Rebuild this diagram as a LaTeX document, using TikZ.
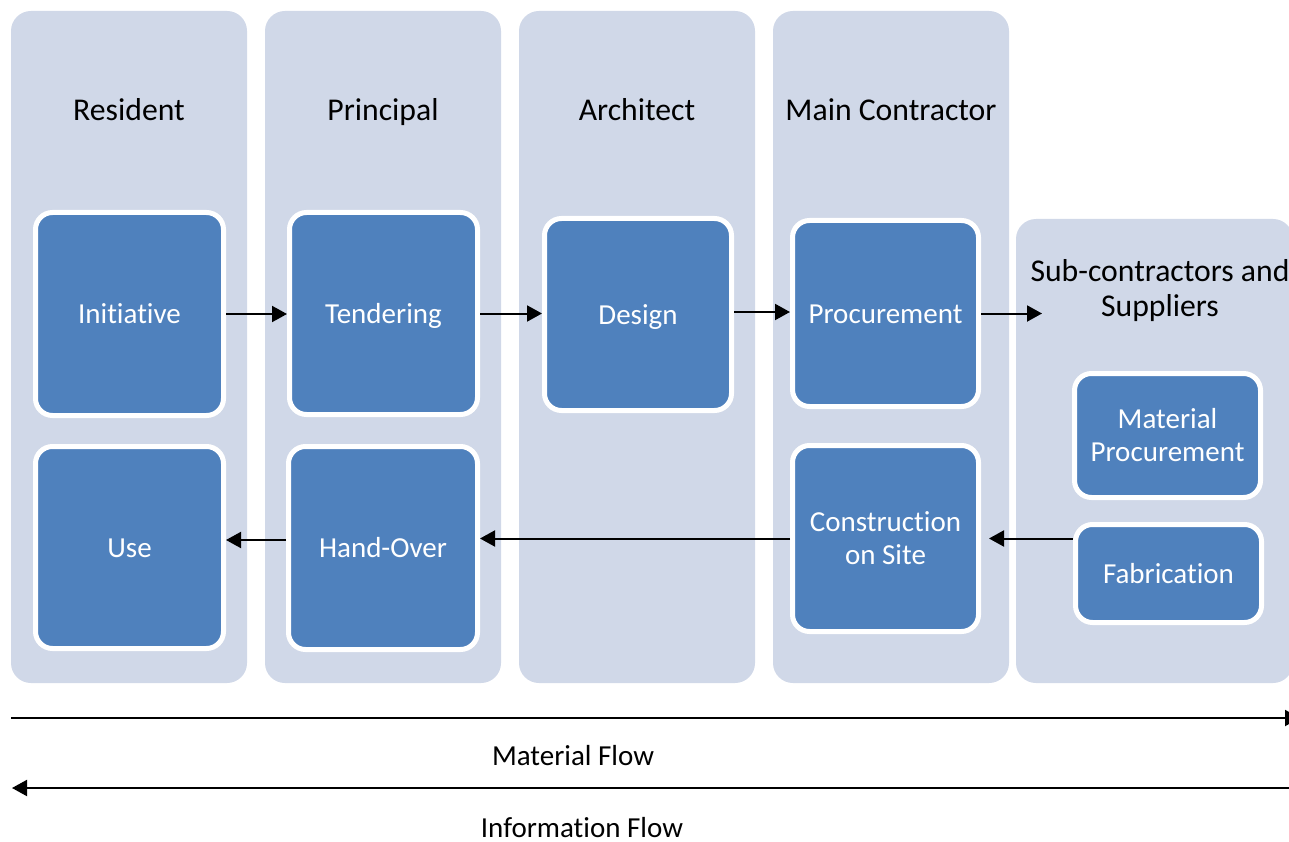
\documentclass[tikz,border=0pt]{standalone}
\usepackage{fontspec}
\setmainfont{Carlito}[Ligatures={TeX,NoCommon}]
\usetikzlibrary{arrows.meta}
\definecolor{lanefill}{HTML}{D0D8E8}
\definecolor{boxfill}{HTML}{4F81BD}
\begin{document}
\begin{tikzpicture}[x=1pt,y=-1pt,
  lane/.style={fill=lanefill, draw=none, rounded corners=20pt, inner sep=0pt, outer sep=0pt},
  lanetitle/.style={font=\fontsize{31.7}{35}\selectfont, text=black, align=center, inner sep=0pt},
  stepbox/.style={draw=white, line width=5pt, fill=boxfill, rounded corners=17pt, text=white,
    font=\fontsize{29}{33}\selectfont, align=center, inner sep=0pt},
  oneline/.style={text height=19pt, text depth=0pt},
  flow/.style={line width=2pt, -{Triangle[length=15pt,width=16pt]}},
  bigflow/.style={line width=2pt, -{Triangle[length=15pt,width=16pt]}},
  flowlabel/.style={font=\fontsize{29}{33}\selectfont, inner sep=0pt, anchor=base}
]
\clip (0,0) rectangle (1289,842);
\fill[white] (0,0) rectangle (1289,842);

% lanes
\node[lane, minimum width=236pt, minimum height=672pt] (laneRes) at (129,347) {};
\node[lane, minimum width=236pt, minimum height=672pt] (lanePri) at (383,347) {};
\node[lane, minimum width=236pt, minimum height=672pt] (laneArc) at (637,347) {};
\node[lane, minimum width=236pt, minimum height=672pt] (laneMain) at (891,347) {};
\node[lane, minimum width=277pt, minimum height=464pt] (laneSub) at (1154.5,451) {};

% lane titles
\node[lanetitle, anchor=base] (tRes) at (129,121) {Resident};
\node[lanetitle, anchor=base] (tPri) at (383,121) {Principal};
\node[lanetitle, anchor=base] (tArc) at (637,121) {Architect};
\node[lanetitle, anchor=base] (tMain) at (891,121) {Main Contractor};
\node[lanetitle] (tSub) at (1160,291) {Sub-contractors and\\Suppliers};

% step boxes
\node[stepbox, oneline, minimum width=188pt, minimum height=203pt] (Initiative) at (129.5,314) {Initiative};
\node[stepbox, oneline, minimum width=188pt, minimum height=202pt] (Tendering) at (383.5,313.5) {Tendering};
\node[stepbox, oneline, minimum width=187pt, minimum height=192pt] (Design) at (638,314.5) {Design};
\node[stepbox, oneline, minimum width=186pt, minimum height=186pt] (Procurement) at (885.5,313.5) {Procurement};
\node[stepbox, oneline, minimum width=188pt, minimum height=202pt] (Use) at (129.5,547.5) {Use};
\node[stepbox, oneline, minimum width=189pt, minimum height=203pt] (HandOver) at (383,548) {Hand-Over};
\node[stepbox, minimum width=186pt, minimum height=186pt] (Construction) at (885.5,538.5) {Construction\\on Site};
\node[stepbox, minimum width=186pt, minimum height=124pt] (MatProc) at (1167.5,435.5) {Material\\Procurement};
\node[stepbox, oneline, minimum width=186pt, minimum height=98pt] (Fabrication) at (1168.5,573.5) {Fabrication};

% connectors
\coordinate (subIn) at (1042,313.5);
\draw[flow] (Initiative.east) -- (Initiative.east -| Tendering.west);
\draw[flow] (Tendering.east) -- (Tendering.east -| Design.west);
\draw[flow] (Design.east |- 0,312) -- (Procurement.west |- 0,312);
\draw[flow] (Procurement.east) -- (subIn);
\draw[flow, shorten >=8pt] (Fabrication.west |- Construction.east) -- (Construction.east);
\draw[flow] (Construction.west) -- (Construction.west -| HandOver.east);
\draw[flow] (HandOver.west |- 0,540) -- (Use.east |- 0,540);

% bottom flows
\coordinate (mfStart) at (11,718);
\coordinate (mfEnd) at (1300,718);
\coordinate (ifStart) at (1295,788);
\coordinate (ifEnd) at (12,788);
\draw[bigflow] (mfStart) -- (mfEnd);
\draw[bigflow] (ifStart) -- (ifEnd);
\node[flowlabel] (lMat) at (573,765) {Material Flow};
\node[flowlabel] (lInf) at (582,837) {Information Flow};
\end{tikzpicture}
\end{document}
